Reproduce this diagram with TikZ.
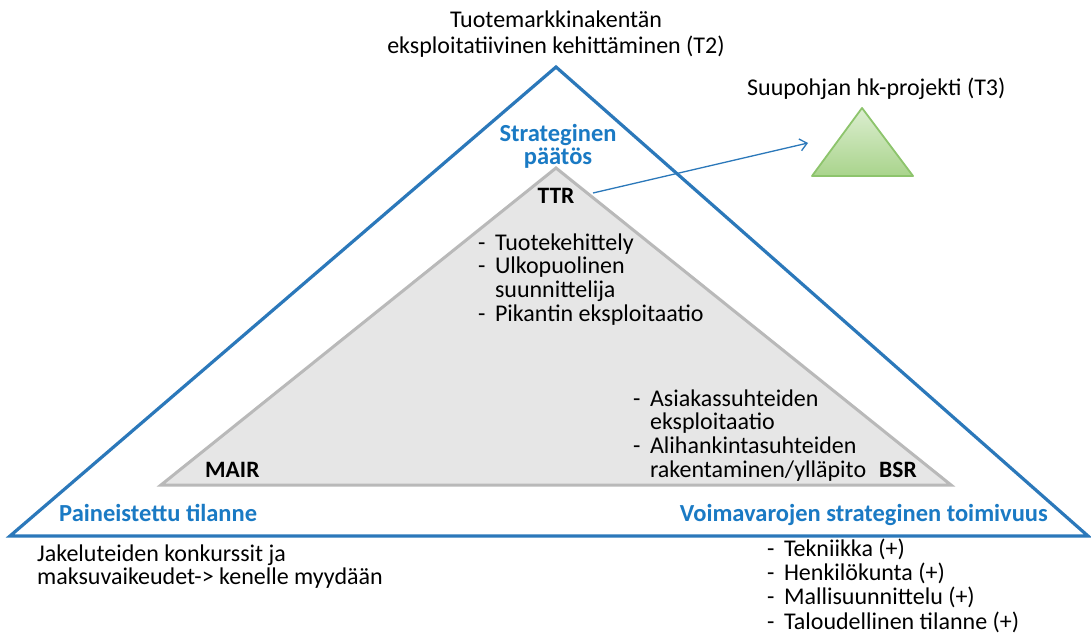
\documentclass[tikz,border=0pt]{standalone}
\usepackage{fontspec}
\setmainfont{Carlito}
\usetikzlibrary{arrows.meta}
\definecolor{outerblue}{HTML}{2B78BA}
\definecolor{textblue}{HTML}{1A7AC4}
\definecolor{grayfill}{HTML}{E6E6E6}
\definecolor{grayline}{HTML}{B9B9B9}
\definecolor{greentop}{HTML}{DCEED0}
\definecolor{greenbot}{HTML}{A9D48C}
\definecolor{greenline}{HTML}{8DC46C}
\newcommand{\dashlist}[1]{\begin{tabular}[t]{@{}l@{\hspace{9.5pt}}l@{}}#1\end{tabular}}
\newcommand{\leftlines}[1]{\begin{tabular}[t]{@{}l@{}}#1\end{tabular}}
\newcommand{\centerlines}[1]{\begin{tabular}[t]{@{}c@{}}#1\end{tabular}}
\begin{document}
\begin{tikzpicture}[x=1pt,y=-1pt,
  txt/.style={inner sep=0pt, font=\fontsize{24}{23.5}\selectfont},
  bluetxt/.style={txt, font=\fontsize{24.5}{22.5}\selectfont\bfseries, text=textblue},
  boldtxt/.style={txt, font=\fontsize{23.5}{23.5}\selectfont\bfseries},
  outertri/.style={draw=outerblue, line width=3.2pt, line join=miter},
  innertri/.style={draw=grayline, fill=grayfill, line width=3pt, line join=miter},
  greentri/.style={draw=greenline, line width=1.8pt, top color=greentop, bottom color=greenbot, line join=round},
  linkarrow/.style={draw=outerblue, line width=1.3pt, -{Straight Barb[length=7pt,width=12pt]}}]
\useasboundingbox (0,0) rectangle (1091,634);
\fill[white] (0,0) rectangle (1091,634);
% outer triangle
\coordinate (oT) at (556,67);
\coordinate (oL) at (10,536);
\coordinate (oR) at (1088,536);
\draw[outertri] (oT) -- (oL) -- (oR) -- cycle;
% inner triangle
\coordinate (iT) at (556,168);
\coordinate (iL) at (161,485);
\coordinate (iR) at (951,485);
\draw[innertri] (iT) -- (iL) -- (iR) -- cycle;
% green triangle
\coordinate (gT) at (862,108);
\coordinate (gL) at (812,176);
\coordinate (gR) at (913,176);
\draw[greentri] (gT) -- (gL) -- (gR) -- cycle;
% arrow
\coordinate (arrS) at (593,193);
\coordinate (arrE) at (808,143);
\draw[linkarrow] (arrS) -- (arrE);
% texts
\node[txt, anchor=base, font=\fontsize{24}{25}\selectfont] (t2) at (556,28) {\centerlines{Tuotemarkkinakentän\\eksploitatiivinen kehittäminen (T2)}};
\node[txt, anchor=base west] (t3) at (747,95) {Suupohjan hk-projekti (T3)};
\node[bluetxt, anchor=base] (strat) at (558,141) {\centerlines{Strateginen\\päätös}};
\node[boldtxt, anchor=base] (ttr) at (556,203) {TTR};
\node[txt, anchor=base west] (ttrlist) at (478,250) {\dashlist{-&Tuotekehittely\\-&Ulkopuolinen\\&suunnittelija\\-&Pikantin eksploitaatio}};
\node[txt, anchor=base west] (bsrlist) at (633,406) {\dashlist{-&Asiakassuhteiden\\&eksploitaatio\\-&Alihankintasuhteiden\\&rakentaminen/ylläpito}};
\node[boldtxt, anchor=base west] (mair) at (205,477) {MAIR};
\node[boldtxt, anchor=base west] (bsr) at (879,477) {BSR};
\node[bluetxt, anchor=base west] (paine) at (59,521) {Paineistettu tilanne};
\node[bluetxt, anchor=base east] (voima) at (1048,521) {Voimavarojen strateginen toimivuus};
\node[txt, anchor=base west] (jake) at (37,561) {\leftlines{Jakeluteiden konkurssit ja\\maksuvaikeudet-> kenelle myydään}};
\node[txt, anchor=base west, font=\fontsize{24}{22.6}\selectfont] (reslist) at (767,556) {\dashlist{-&Tekniikka (+)\\-&Henkilökunta (+)\\-&Mallisuunnittelu (+)\\-&Taloudellinen tilanne (+)}};
\end{tikzpicture}
\end{document}
